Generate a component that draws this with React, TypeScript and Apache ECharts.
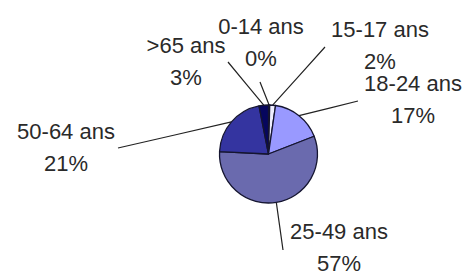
import React, { useEffect, useRef } from "react";
import * as echarts from "echarts";

// Data
const categories = ["0-14 ans", "15-17 ans", "18-24 ans", "25-49 ans", "50-64 ans", ">65 ans"];
const shares = [0.4, 1.9, 16.8, 56.7, 21.1, 3.1];

// Styling / layout (not data)
const sliceColors = ["#ffffff", "#eeeeff", "#9999ff", "#6a6aae", "#3434a0", "#06065e"];
// label block centre (x, y) and end point of the leader line
const labelPlacement = [
  { x: 261, y: 42, ex: 260, ey: 82 },
  { x: 380, y: 45, ex: 325, ey: 47 },
  { x: 413, y: 99, ex: 358, ey: 101 },
  { x: 339, y: 247, ex: 283, ey: 250 },
  { x: 66, y: 147, ex: 118, ey: 148 },
  { x: 186, y: 61, ex: 228, ey: 62 },
];

export default function App() {
  const ref = useRef<HTMLDivElement>(null);
  useEffect(() => {
    document.body.style.margin = "0";
    const chart = echarts.init(ref.current!, null, { renderer: "svg" });
    chart.setOption({
      animation: false,
      backgroundColor: "#ffffff",
      series: [
        {
          type: "pie",
          center: [268.5, 154],
          radius: 49,
          startAngle: 90,
          clockwise: true,
          percentPrecision: 0,
          avoidLabelOverlap: false,
          data: categories.map((name, i) => ({
            name,
            value: shares[i],
            itemStyle: { color: sliceColors[i] },
          })),
          itemStyle: { borderColor: "#151530", borderWidth: 1.3 },
          label: {
            show: true,
            position: "outside",
            formatter: "{b}\n{d}%",
            fontFamily: "Liberation Sans, Arial, sans-serif",
            fontSize: 22,
            lineHeight: 32,
            color: "#2a2a2a",
          },
          labelLine: {
            show: true,
            length: 10,
            length2: 10,
            lineStyle: { color: "#222222", width: 1.2 },
          },
          emphasis: { disabled: true },
          labelLayout: (params: any) => {
            const p = labelPlacement[params.dataIndex];
            const start = params.labelLinePoints ? params.labelLinePoints[0] : [p.ex, p.ey];
            const mid = [(start[0] + p.ex) / 2, (start[1] + p.ey) / 2];
            return {
              x: p.x,
              y: p.y,
              align: "center",
              verticalAlign: "middle",
              labelLinePoints: [start, mid, [p.ex, p.ey]],
            };
          },
        },
      ],
    });
    return () => chart.dispose();
  }, []);
  return <div ref={ref} style={{ position: "fixed", left: 0, top: 0, width: 465, height: 272 }} />;
}
